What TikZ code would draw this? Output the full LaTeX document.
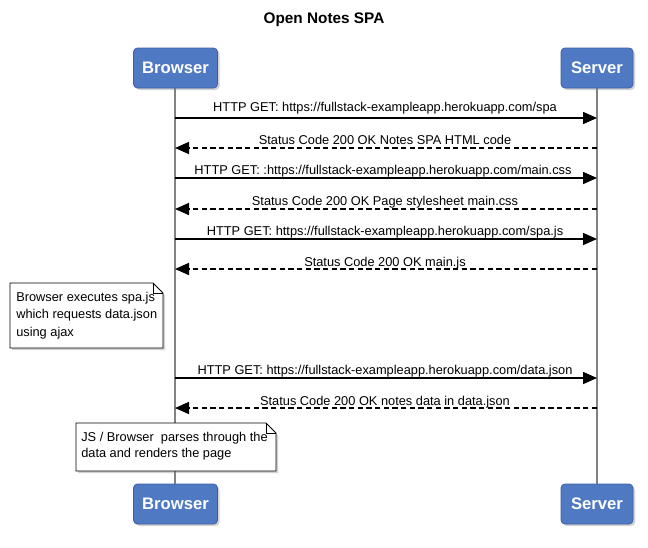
\documentclass[tikz,border=0pt]{standalone}
\usepackage{fontspec}
\setmainfont{Liberation Sans}
\usetikzlibrary{arrows.meta,shadows}
\definecolor{actorblue}{RGB}{79,122,195}
\definecolor{actoredge}{RGB}{60,95,160}
\definecolor{lifegray}{RGB}{130,130,130}
\tikzset{
  actor/.style={draw=actoredge, fill=actorblue, rounded corners=3pt, line width=0.6pt,
    minimum height=30pt, text=white, font=\fontsize{12.5pt}{14pt}\selectfont\bfseries,
    drop shadow={opacity=0.35, shadow xshift=1.5pt, shadow yshift=-1.5pt}},
  lifeline/.style={draw=lifegray, line width=1.4pt},
  msg/.style={line width=1.2pt, -{Triangle[length=10.5pt,width=9pt]}},
  reply/.style={msg, dash pattern=on 4pt off 2.5pt},
  lbl/.style={font=\fontsize{9.6pt}{11pt}\selectfont, inner sep=0pt, anchor=base},
  notetext/.style={font=\fontsize{9.6pt}{13pt}\selectfont, align=left, inner sep=0pt, anchor=north west},
  notebox/.style={draw=black, fill=white, line width=0.6pt,
    drop shadow={opacity=0.35, shadow xshift=1.5pt, shadow yshift=-1.5pt}}
}
\begin{document}
\begin{tikzpicture}[x=0.75pt,y=-0.75pt]
\useasboundingbox (0,0) rectangle (648,547);
\fill[white] (0,0) rectangle (648,547);
\node[font=\fontsize{11.5pt}{13pt}\selectfont\bfseries] (title) at (324,20) {Open Notes SPA};

% lifelines
\coordinate (btop) at (175,88);
\coordinate (bbot) at (175,484);
\coordinate (stop) at (597,88);
\coordinate (sbot) at (597,484);
\draw[lifeline] (btop) -- (bbot);
\draw[lifeline] (stop) -- (sbot);

% actors
\node[actor, minimum width=63pt] (B1) at (175.5,68) {Browser};
\node[actor, minimum width=54pt] (S1) at (597,68) {Server};
\node[actor, minimum width=63pt] (B2) at (175.5,504) {Browser};
\node[actor, minimum width=54pt] (S2) at (597,504) {Server};

% message anchors
\foreach \i/\y in {1/118,2/148,3/178,4/209,5/239,6/269,7/378,8/408}{
  \coordinate (b\i) at (175,\y);
  \coordinate (s\i) at (597,\y);
}

\draw[msg] (b1) -- (s1);
\node[lbl] (l1) at (385,111) {HTTP GET: https://fullstack-exampleapp.herokuapp.com/spa};
\draw[reply] (s2) -- (b2);
\node[lbl] (l2) at (385,144) {Status Code 200 OK Notes SPA HTML code};
\draw[msg] (b3) -- (s3);
\node[lbl] (l3) at (383,174) {HTTP GET: :https://fullstack-exampleapp.herokuapp.com/main.css};
\draw[reply] (s4) -- (b4);
\node[lbl] (l4) at (385,205) {Status Code 200 OK Page stylesheet main.css};
\draw[msg] (b5) -- (s5);
\node[lbl] (l5) at (385,235) {HTTP GET: https://fullstack-exampleapp.herokuapp.com/spa.js};
\draw[reply] (s6) -- (b6);
\node[lbl] (l6) at (385,266) {Status Code 200 OK main.js};
\draw[msg] (b7) -- (s7);
\node[lbl] (l7) at (385,374) {HTTP GET: https://fullstack-exampleapp.herokuapp.com/data.json};
\draw[reply] (s8) -- (b8);
\node[lbl] (l8) at (385,405) {Status Code 200 OK notes data in data.json};

% note 1
\path[notebox] (10,283) -- (153,283) -- (163,293) -- (163,348) -- (10,348) -- cycle;
\draw[line width=0.6pt] (153,283) -- (153,293) -- (163,293);
\node[notetext] (note1) at (16,292) {Browser executes spa.js\\which requests data.json\\using ajax};

% note 2
\path[notebox] (76,423) -- (266,423) -- (276,433) -- (276,471) -- (76,471) -- cycle;
\draw[line width=0.6pt] (266,423) -- (266,433) -- (276,433);
\node[notetext, font=\fontsize{9.6pt}{12pt}\selectfont] (note2) at (81,432) {JS / Browser\ \ parses through the\\data and renders the page};
\end{tikzpicture}
\end{document}
